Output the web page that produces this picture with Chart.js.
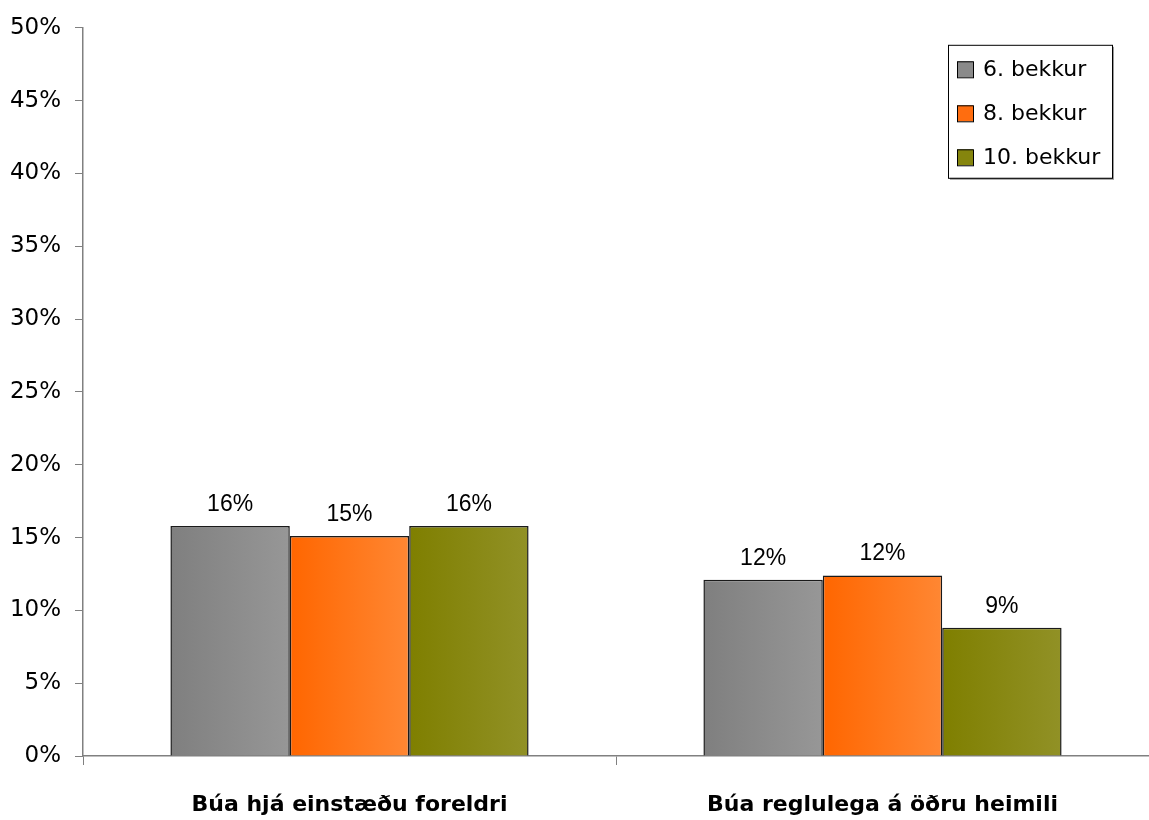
<!DOCTYPE html>
<html>
<head>
<meta charset="utf-8">
<script src="https://cdn.jsdelivr.net/npm/chart.js@4.4.1/dist/chart.umd.min.js"></script>
<style>
  html, body { margin: 0; padding: 0; background: #ffffff; }
  #wrap { width: 1149px; height: 820px; position: relative; }
</style>
</head>
<body>
<div id="wrap"><canvas id="c" width="1149" height="820"></canvas></div>
<script>
// ---- data ----
const categories = ['Búa hjá einstæðu foreldri', 'Búa reglulega á öðru heimili'];
const seriesNames = ['6. bekkur', '8. bekkur', '10. bekkur'];
const grade6 = [15.8, 12.1];
const grade8 = [15.1, 12.4];
const grade10 = [15.8, 8.8];
const yTicks = [0, 5, 10, 15, 20, 25, 30, 35, 40, 45, 50];

// ---- styling ----
const gradStops = [
  ['#7f7f7f', '#979797'],
  ['#ff6600', '#ff8733'],
  ['#7f7f00', '#919126']
];
const legendFill = ['#8a8a8a', '#ff6d0f', '#85850d'];
const CAT_PCT = 0.672;
const axisFont = 'DejaVu Sans';
const labelFont = 'Liberation Sans';

function barGradient(ctx) {
  const chart = ctx.chart;
  const cols = gradStops[ctx.datasetIndex];
  const xs = chart.scales && chart.scales.x;
  if (!xs || !chart.chartArea || ctx.dataIndex === undefined) return cols[0];
  const n = chart.data.datasets.length;
  const catW = xs.width / chart.data.labels.length;
  const slot = catW * CAT_PCT / n;
  const center = xs.getPixelForValue(ctx.dataIndex) + (ctx.datasetIndex - (n - 1) / 2) * slot;
  const g = chart.ctx.createLinearGradient(center - slot / 2, 0, center + slot / 2, 0);
  g.addColorStop(0, cols[0]);
  g.addColorStop(1, cols[1]);
  return g;
}

const valueLabels = {
  id: 'valueLabels',
  afterDatasetsDraw(chart) {
    const c = chart.ctx;
    c.save();
    c.font = '23px "' + labelFont + '"';
    c.fillStyle = '#000';
    c.textAlign = 'center';
    c.textBaseline = 'alphabetic';
    chart.data.datasets.forEach((ds, di) => {
      const meta = chart.getDatasetMeta(di);
      meta.data.forEach((el, i) => {
        c.fillText(Math.round(ds.data[i]) + '%', el.x, el.y - 15);
      });
    });
    c.restore();
  }
};

const boxLegend = {
  id: 'boxLegend',
  afterDraw(chart) {
    const c = chart.ctx;
    const a = chart.chartArea;
    const right = a.right - 37, top = a.top + 17;
    const w = 164, h = 133;
    const left = right - w;
    c.save();
    c.fillStyle = '#9a9a9a';
    c.fillRect(left + 2, top + 2, w, h);
    c.fillStyle = '#ffffff';
    c.fillRect(left, top, w, h);
    c.strokeStyle = '#000';
    c.lineWidth = 1;
    c.strokeRect(left + 0.5, top + 0.5, w, h);
    c.font = '22px "' + axisFont + '"';
    c.textBaseline = 'middle';
    c.textAlign = 'left';
    chart.data.datasets.forEach((ds, i) => {
      const cy = top + 24.5 + i * 44;
      c.fillStyle = legendFill[i];
      c.fillRect(left + 9, cy - 8, 16, 16);
      c.strokeStyle = '#000';
      c.strokeRect(left + 9.5, cy - 7.5, 16, 16);
      c.fillStyle = '#000';
      c.fillText(ds.label, left + 35, cy + 1);
    });
    c.restore();
  }
};

const datasets = [grade6, grade8, grade10].map((d, i) => ({
  label: seriesNames[i],
  data: d,
  backgroundColor: barGradient,
  borderColor: '#1a1a1a',
  borderWidth: 1.5,
  categoryPercentage: CAT_PCT,
  barPercentage: 1.0
}));

new Chart(document.getElementById('c'), {
  type: 'bar',
  data: { labels: categories, datasets },
  options: {
    responsive: false,
    animation: false,
    devicePixelRatio: 1,
    layout: { padding: { top: 15, left: 0, right: 0, bottom: 0 } },
    plugins: {
      legend: { display: false },
      tooltip: { enabled: false }
    },
    scales: {
      x: {
        afterFit(scale) { scale.height = 64; },
        grid: { display: true, drawOnChartArea: false, tickLength: 9, color: '#808080', offset: true },
        border: { color: '#808080', width: 1.5 },
        ticks: { color: '#000', padding: 27, font: { family: axisFont, size: 22, weight: 'bold' } }
      },
      y: {
        min: yTicks[0],
        max: yTicks[yTicks.length - 1],
        afterFit(scale) { scale.width = 83; },
        afterBuildTicks(scale) { scale.ticks = yTicks.map(v => ({ value: v })); },
        grid: { display: true, drawOnChartArea: false, tickLength: 8, color: '#808080' },
        border: { color: '#808080', width: 1.5 },
        ticks: { color: '#000', padding: 14, font: { family: axisFont, size: 23 }, callback: v => v + '%' }
      }
    }
  },
  plugins: [valueLabels, boxLegend]
});
</script>
</body>
</html>
